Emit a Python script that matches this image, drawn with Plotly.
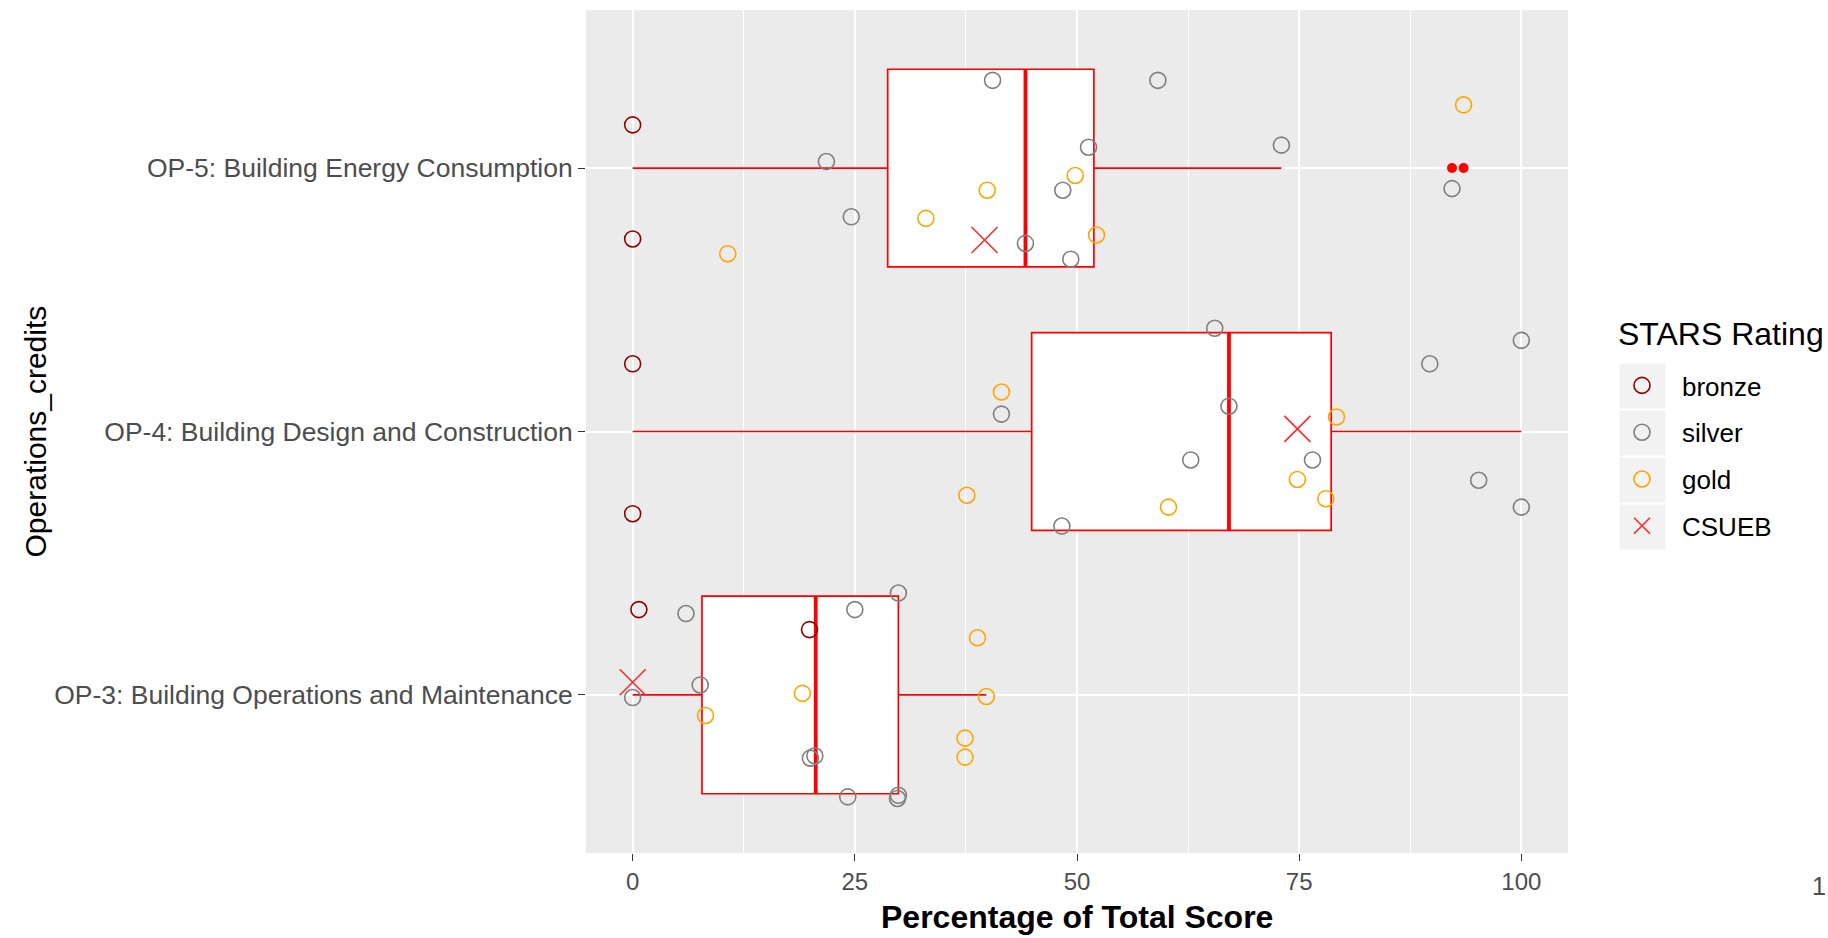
import plotly.graph_objects as go

# ---------------- data ----------------
credits = ["OP-3: Building Operations and Maintenance",
           "OP-4: Building Design and Construction",
           "OP-5: Building Energy Consumption"]
credit_pos = [1, 2, 3]

# box statistics per credit (OP-3, OP-4, OP-5)
box_lower = [0.0, 0.0, 0.0]
box_q1 = [7.8, 44.9, 28.7]
box_median = [20.6, 67.1, 44.2]
box_q3 = [29.9, 78.6, 51.9]
box_upper = [39.8, 100.0, 73.0]

outlier_credit = [3, 3]
outlier_score = [92.2, 93.5]

# jittered school points: credit index (1=OP-3, 2=OP-4, 3=OP-5), score, vertical jitter
bronze_credit = [1, 1, 2, 2, 3, 3]
bronze_score = [0.7, 19.9, 0.0, 0.0, 0.0, 0.0]
bronze_jitter = [0.324, 0.248, 0.257, -0.312, 0.164, -0.269]

silver_credit = [1] * 10 + [2] * 10 + [3] * 10
silver_score = [6.0, 25.0, 29.9, 0.0, 7.6, 20.0, 20.5, 24.2, 29.9, 29.8,
                41.5, 48.3, 65.5, 67.1, 62.8, 76.5, 89.7, 100.0, 95.2, 100.0,
                21.8, 24.6, 40.5, 44.2, 48.4, 51.3, 49.3, 59.1, 73.0, 92.2]
silver_jitter = [0.309, 0.324, 0.387, -0.010, 0.038, -0.240, -0.231, -0.387, -0.381, -0.393,
                 0.066, -0.359, 0.392, 0.096, -0.108, -0.108, 0.257, 0.346, -0.185, -0.287,
                 0.025, -0.185, 0.333, -0.286, -0.084, 0.079, -0.346, 0.333, 0.087, -0.078]

gold_credit = [1] * 6 + [2] * 6 + [3] * 6
gold_score = [38.8, 8.2, 19.1, 39.8, 37.4, 37.4,
              41.5, 37.6, 60.3, 79.2, 74.8, 78.0,
              10.7, 33.0, 39.9, 49.8, 52.2, 93.5]
gold_jitter = [0.217, -0.078, 0.006, -0.006, -0.164, -0.236,
               0.150, -0.242, -0.287, 0.055, -0.182, -0.255,
               -0.325, -0.191, -0.084, -0.028, -0.254, 0.240]

csueb_credit = [1, 2, 3]
csueb_score = [0.0, 74.8, 39.6]
csueb_jitter = [0.048, 0.010, -0.273]

x_ticks = [0, 25, 50, 75, 100]

# ---------------- figure ----------------
W, H = 1828, 938
ML, MR, MT, MB = 586, 260, 10, 85
PW = W - ML - MR
PH = H - MT - MB


def px2paper_x(px):
    return (px - ML) / PW


def px2paper_y(py):
    return (H - MB - py) / PH


fig = go.Figure()

# boxes
fig.add_trace(go.Box(
    y=credit_pos, q1=box_q1, median=box_median, q3=box_q3,
    lowerfence=box_lower, upperfence=box_upper,
    orientation="h", width=0.75, whiskerwidth=0,
    fillcolor="white", line=dict(color="red", width=1.7),
    boxpoints=False, showlegend=False, hoverinfo="skip"))

# thicker median lines
med_x, med_y = [], []
for c, m in zip(credit_pos, box_median):
    med_x += [m, m, None]
    med_y += [c - 0.375, c + 0.375, None]
fig.add_trace(go.Scatter(x=med_x, y=med_y, mode="lines",
                         line=dict(color="red", width=3.8),
                         showlegend=False, hoverinfo="skip"))

# outliers
fig.add_trace(go.Scatter(x=outlier_score, y=outlier_credit, mode="markers",
                         marker=dict(color="red", size=10, symbol="circle"),
                         showlegend=False, hoverinfo="skip"))


def jit(cred, j):
    return [c + d for c, d in zip(cred, j)]


ring = dict(size=16, symbol="circle-open")
fig.add_trace(go.Scatter(x=bronze_score, y=jit(bronze_credit, bronze_jitter),
                         mode="markers", name="bronze", legendgroup="b",
                         marker=dict(color="#8B0000", line=dict(width=1.6), **ring)))
fig.add_trace(go.Scatter(x=silver_score, y=jit(silver_credit, silver_jitter),
                         mode="markers", name="silver", legendgroup="s",
                         marker=dict(color="#7F7F7F", line=dict(width=1.6), **ring)))
fig.add_trace(go.Scatter(x=gold_score, y=jit(gold_credit, gold_jitter),
                         mode="markers", name="gold", legendgroup="g",
                         marker=dict(color="#FFA500", line=dict(width=1.6), **ring)))
fig.add_trace(go.Scatter(x=csueb_score, y=jit(csueb_credit, csueb_jitter),
                         mode="markers", name="CSUEB", legendgroup="c",
                         marker=dict(color="#FF2A2A", size=26, symbol="x-thin-open",
                                     line=dict(width=1.6, color="#FF2A2A"))))

font_family = "Liberation Sans, Arial, sans-serif"

# legend key backgrounds
shapes = []
key_centers = [386, 433, 480, 527]
for cy in key_centers:
    shapes.append(dict(type="rect", xref="paper", yref="paper",
                       x0=px2paper_x(1619), x1=px2paper_x(1666),
                       y0=px2paper_y(cy + 23), y1=px2paper_y(cy - 23),
                       fillcolor="#F2F2F2", line=dict(color="white", width=1),
                       layer="below"))

fig.update_layout(
    width=W, height=H,
    margin=dict(l=ML, r=MR, t=MT, b=MB, autoexpand=False),
    paper_bgcolor="white", plot_bgcolor="#EBEBEB",
    font=dict(family=font_family, size=25, color="#4D4D4D"),
    showlegend=True,
    legend=dict(
        font=dict(size=26, color="black"),
        x=px2paper_x(1602), xanchor="left",
        y=px2paper_y(362), yanchor="top",
        bgcolor="rgba(0,0,0,0)", tracegroupgap=10,
        itemsizing="trace", itemwidth=70),
    xaxis=dict(
        range=[-5.25, 105.25], tickvals=x_ticks, ticktext=[str(t) for t in x_ticks],
        showgrid=True, gridcolor="white", gridwidth=1.6,
        minor=dict(dtick=12.5, tick0=0, showgrid=True, gridcolor="white", gridwidth=0.8, ticklen=0),
        zeroline=False, showline=False,
        ticks="outside", ticklen=7, tickwidth=1.2, tickcolor="#333333",
        tickfont=dict(size=24, color="#4D4D4D")),
    yaxis=dict(
        range=[0.4, 3.6], tickvals=credit_pos, ticktext=credits,
        showgrid=True, gridcolor="white", gridwidth=1.6,
        zeroline=False, showline=False,
        ticks="outside", ticklen=7, tickwidth=1.2, tickcolor="#333333",
        tickfont=dict(size=26.5, color="#4D4D4D")),
    shapes=shapes,
    annotations=[
        dict(text="<b>Percentage of Total Score</b>", xref="paper", yref="paper",
             x=0.5, y=px2paper_y(917), xanchor="center", yanchor="middle",
             showarrow=False, font=dict(size=32, color="black", family=font_family)),
        dict(text="Operations_credits", xref="paper", yref="paper",
             x=px2paper_x(35), y=0.5, xanchor="center", yanchor="middle",
             textangle=-90, showarrow=False,
             font=dict(size=30, color="black", family=font_family)),
        dict(text="STARS Rating", xref="paper", yref="paper",
             x=px2paper_x(1616), y=px2paper_y(334), xanchor="left", yanchor="middle",
             showarrow=False, font=dict(size=32, color="black", family=font_family)),
        dict(text="1", xref="paper", yref="paper",
             x=px2paper_x(1810), y=px2paper_y(886), xanchor="left", yanchor="middle",
             showarrow=False, font=dict(size=25, color="#4D4D4D", family=font_family)),
    ],
)

fig.write_html("out.html", config={"displayModeBar": False},
               post_script="document.body.style.margin='0';")
